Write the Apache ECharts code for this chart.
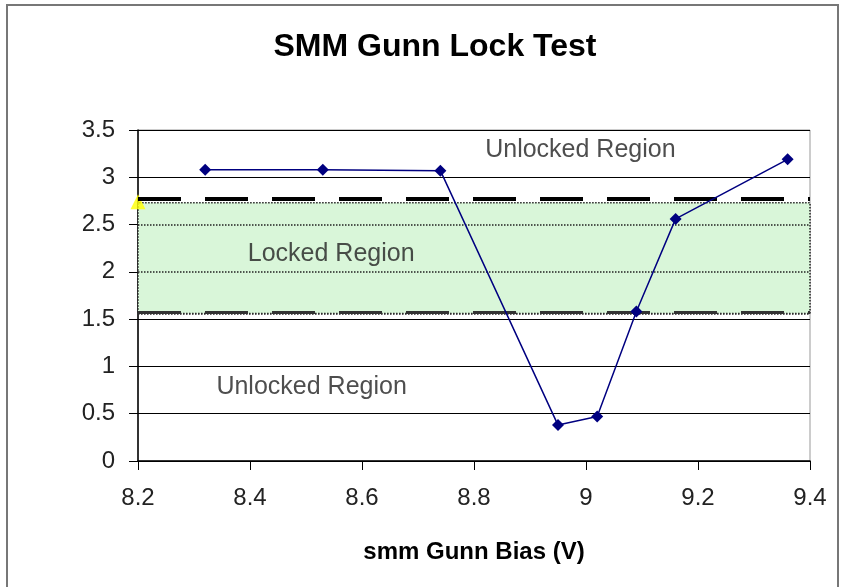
<!DOCTYPE html>
<html>
<head>
<meta charset="utf-8">
<script src="https://cdn.jsdelivr.net/npm/echarts@6/dist/echarts.min.js"></script>
<style>
  html, body { margin: 0; padding: 0; background: #fff; }
  #chart { width: 841px; height: 587px; }
</style>
</head>
<body>
<div id="chart"></div>
<script>
// measured points (bias V, lock value)
const biasV = [8.32, 8.53, 8.74, 8.95, 9.02, 9.09, 9.16, 9.36]
const lockVal = [3.08, 3.08, 3.07, 0.38, 0.47, 1.58, 2.56, 3.19]

// locked band and its boundary lines
const bandRange = [1.56, 2.73]
const upperLimit = 2.77
const lowerLimit = 1.57
const bandGridLevels = [2, 2.5]
const markerPoint = [8.2, 2.74]

// region captions
const captionX = [8.99, 8.545, 8.51]
const captionY = [3.29, 2.19, 0.78]
const captionText = ['Unlocked Region', 'Locked Region', 'Unlocked Region']

const xMin = 8.2
const xMax = 9.4

const chart = echarts.init(document.getElementById('chart'))

const font = 'Liberation Sans, Arial, sans-serif'

const option = {
  backgroundColor: '#fff',
  animation: false,
  title: {
    text: 'SMM Gunn Lock Test',
    left: 430,
    textAlign: 'center',
    top: 26,
    textStyle: { fontFamily: font, fontSize: 32, fontWeight: 'bold', color: '#000' }
  },
  graphic: [
    {
      type: 'rect',
      shape: { x: 7, y: 5, width: 831, height: 600 },
      style: { fill: 'none', stroke: '#777', lineWidth: 2 },
      silent: true
    }
  ],
  grid: {
    left: 138,
    right: 31,
    top: 130,
    bottom: 126,
    show: true,
    borderColor: '#999',
    borderWidth: 1,
    backgroundColor: '#fff'
  },
  xAxis: {
    type: 'value',
    min: xMin,
    max: xMax,
    interval: 0.2,
    name: 'smm Gunn Bias (V)',
    nameLocation: 'middle',
    nameGap: 79,
    nameTextStyle: { fontFamily: font, fontSize: 24, fontWeight: 'bold', color: '#000' },
    axisLine: { onZero: false, lineStyle: { color: '#000', width: 1.5 } },
    axisTick: { show: true, length: 9, lineStyle: { color: '#000' } },
    axisLabel: { margin: 25, fontFamily: font, fontSize: 24, color: '#222' },
    splitLine: { show: false }
  },
  yAxis: {
    type: 'value',
    min: 0,
    max: 3.5,
    interval: 0.5,
    axisLine: { show: true, lineStyle: { color: '#000', width: 1.5 } },
    axisTick: { show: true, length: 9, lineStyle: { color: '#000' } },
    axisLabel: { margin: 23, fontFamily: font, fontSize: 24, color: '#222' },
    splitLine: { show: true, lineStyle: { color: '#000', width: 1 } }
  },
  series: [
    {
      // locked band with dotted grid lines inside
      name: 'band',
      type: 'line',
      data: [],
      z: 1,
      markArea: {
        silent: true,
        itemStyle: { color: '#d9f6d9', borderColor: '#222', borderWidth: 1.5, borderType: 'dotted' },
        data: [[{ yAxis: bandRange[0] }, { yAxis: bandRange[1] }]]
      },
      markLine: {
        silent: true,
        symbol: 'none',
        label: { show: false },
        lineStyle: { color: '#222', width: 1.5, type: 'dotted' },
        data: bandGridLevels.map(v => ({ yAxis: v }))
      }
    },
    {
      name: 'limits',
      type: 'line',
      data: [],
      z: 2,
      markLine: {
        silent: true,
        symbol: 'none',
        label: { show: false },
        data: [
          { yAxis: upperLimit, lineStyle: { color: '#000', width: 4, type: [43, 24] } },
          { yAxis: lowerLimit, lineStyle: { color: '#333', width: 3, type: [43, 24] } },
          { yAxis: lowerLimit - 0.01, lineStyle: { color: '#333', width: 1.5, type: 'dotted' } }
        ]
      }
    },
    {
      name: 'marker',
      type: 'scatter',
      data: [markerPoint],
      symbol: 'triangle',
      symbolSize: 15,
      clip: false,
      itemStyle: { color: '#ffff00' },
      z: 4
    },
    {
      name: 'lock',
      type: 'line',
      data: biasV.map((x, i) => [x, lockVal[i]]),
      symbol: 'diamond',
      symbolSize: 12,
      lineStyle: { color: '#000080', width: 1.5 },
      itemStyle: { color: '#000080' },
      z: 5
    },
    {
      name: 'captions',
      type: 'scatter',
      data: captionX.map((x, i) => [x, captionY[i], captionText[i]]),
      symbolSize: 0,
      silent: true,
      label: {
        show: true,
        position: 'inside',
        formatter: p => p.data[2],
        fontFamily: font,
        fontSize: 25,
        color: '#222'
      },
      z: 6
    }
  ]
}

chart.setOption(option)
</script>
</body>
</html>
